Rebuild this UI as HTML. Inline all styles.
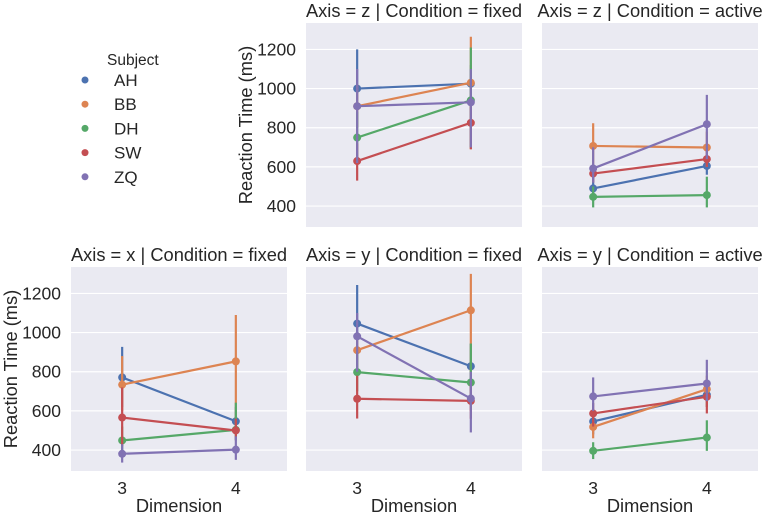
<!DOCTYPE html>
<html><head><meta charset="utf-8"><style>
html,body{margin:0;padding:0;background:#fff;}
svg{display:block;font-family:"Liberation Sans",sans-serif;}
</style></head><body>
<svg id="chart" width="767" height="513" viewBox="0 0 767 513" xmlns="http://www.w3.org/2000/svg"></svg>
<script>
const subjects = ["AH","BB","DH","SW","ZQ"];
const dims = ["3","4"];
const yTicks = [400,600,800,1000,1200];
const colors = ["#4c72b0","#dd8452","#55a868","#c44e52","#8172b3"];
// means per subject [dim3, dim4]
const meanZFixed = [[1000,1025],[910,1030],[750,940],[630,825],[910,930]];
const loZFixed   = [[800,850],[800,690],[620,700],[530,690],[620,700]];
const hiZFixed   = [[1200,1120],[1020,1265],[880,1210],[720,950],[1100,1100]];
const meanZActive = [[490,605],[707,699],[447,456],[566,640],[592,818]];
const loZActive   = [[440,560],[600,600],[393,393],[520,600],[520,640]];
const hiZActive   = [[560,650],[823,780],[500,550],[610,690],[700,968]];
const meanXFixed = [[771,547],[734,853],[449,503],[566,500],[381,402]];
const loXFixed   = [[620,480],[600,500],[400,450],[420,450],[336,350]];
const hiXFixed   = [[927,620],[880,1090],[520,642],[720,560],[430,470]];
const meanYFixed = [[1046,828],[910,1114],[798,745],[662,651],[981,663]];
const loYFixed   = [[800,700],[800,600],[700,650],[561,560],[800,490]];
const hiYFixed   = [[1243,944],[1000,1300],[900,944],[780,750],[1100,800]];
const meanYActive = [[546,682],[518,711],[396,464],[587,672],[674,740]];
const loYActive   = [[480,620],[460,620],[354,396],[520,587],[600,650]];
const hiYActive   = [[600,740],[560,780],[440,552],[640,720],[771,861]];

const panels = [
  {name:"z-fixed", title:"Axis = z | Condition = fixed", x:306, y:23, m:meanZFixed, lo:loZFixed, hi:hiZFixed, yl:true, xl:false},
  {name:"z-active", title:"Axis = z | Condition = active", x:542, y:23, m:meanZActive, lo:loZActive, hi:hiZActive, yl:false, xl:false},
  {name:"x-fixed", title:"Axis = x | Condition = fixed", x:71, y:267, m:meanXFixed, lo:loXFixed, hi:hiXFixed, yl:true, xl:true},
  {name:"y-fixed", title:"Axis = y | Condition = fixed", x:306, y:267, m:meanYFixed, lo:loYFixed, hi:hiYFixed, yl:false, xl:true},
  {name:"y-active", title:"Axis = y | Condition = active", x:542, y:267, m:meanYActive, lo:loYActive, hi:hiYActive, yl:false, xl:true}
];
const W=216, H=204, yMin=293, yMax=1335;
const NS="http://www.w3.org/2000/svg";
const svg=document.getElementById("chart");
function el(tag,attrs,parent){const e=document.createElementNS(NS,tag);for(const k in attrs)e.setAttribute(k,attrs[k]);(parent||svg).appendChild(e);return e;}
panels.forEach(p=>{
  const g=el("g",{});
  
  
  const ys=v=>p.y+H-(v-yMin)/(yMax-yMin)*H;
  const xs=i=>p.x+(i+0.45)/1.9*W;
  const bg=el("rect",{x:p.x,y:p.y,width:W,height:H,fill:"#eaeaf2"},g);
  
  
  yTicks.forEach(t=>{
    const l=el("line",{x1:p.x,x2:p.x+W,y1:ys(t),y2:ys(t),stroke:"#fff","stroke-width":1.2},g);
    
    
    if(p.yl){
      const tx=el("text",{x:p.x-10,y:ys(t)+6,"text-anchor":"end","font-size":17.5,fill:"#262626"},g);
      tx.textContent=t;
      
      
    }
  });
  const tt=el("text",{x:p.x+W/2,y:p.y-6,"text-anchor":"middle","font-size":18.3,fill:"#262626"},g);
  tt.textContent=p.title;
  
  
  if(p.yl){
    const cx=p.x-54, cy=p.y+H/2;
    const yt=el("text",{x:cx,y:cy,"text-anchor":"middle","font-size":18.3,fill:"#262626",transform:`rotate(-90 ${cx} ${cy})`},g);
    yt.textContent="Reaction Time (ms)";
    
    
  }
  if(p.xl){
    dims.forEach((d,i)=>{
      const tx=el("text",{x:xs(i),y:p.y+H+23,"text-anchor":"middle","font-size":17.5,fill:"#262626"},g);
      tx.textContent=d;
      
      
    });
    const xt=el("text",{x:p.x+W/2,y:p.y+H+41,"text-anchor":"middle","font-size":18.3,fill:"#262626"},g);
    xt.textContent="Dimension";
    
    
  }
  subjects.forEach((s,k)=>{
    const c=colors[k];
    dims.forEach((d,i)=>{
      const eb=el("line",{x1:xs(i),x2:xs(i),y1:ys(p.lo[k][i]),y2:ys(p.hi[k][i]),stroke:c,"stroke-width":2.2},g);
      
      
    });
    const ln=el("line",{x1:xs(0),x2:xs(1),y1:ys(p.m[k][0]),y2:ys(p.m[k][1]),stroke:c,"stroke-width":2.2},g);
    
    
    dims.forEach((d,i)=>{
      const pt=el("circle",{cx:xs(i),cy:ys(p.m[k][i]),r:4,fill:c},g);
      
      
    });
  });
});
const lg=el("g",{});


const lt=el("text",{x:107,y:65,"font-size":15.5,fill:"#262626"},lg);
lt.textContent="Subject";


subjects.forEach((s,k)=>{
  const yy=86+k*24.2;
  const d=el("circle",{cx:85,cy:yy-6,r:3.5,fill:colors[k]},lg);
  
  
  const t=el("text",{x:114,y:yy,"font-size":17,fill:"#262626"},lg);
  t.textContent=s;
  
  
});
</script>
</body></html>
